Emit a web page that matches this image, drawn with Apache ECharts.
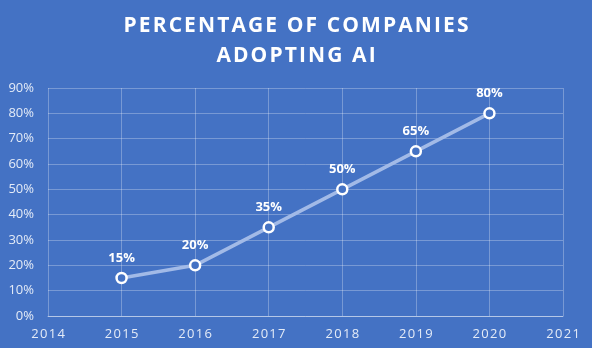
<!DOCTYPE html>
<html>
<head>
<meta charset="utf-8">
<script src="https://cdn.jsdelivr.net/npm/echarts@6/dist/echarts.min.js"></script>
<style>
  html, body { margin: 0; padding: 0; background: #4472C4; }
  #chart { width: 592px; height: 348px; }
</style>
</head>
<body>
<div id="chart"></div>
<script>
// Share of companies adopting AI, by year
const years = [2015, 2016, 2017, 2018, 2019, 2020];
const adoption = [15, 20, 35, 50, 65, 80];
const xTicks = [2014, 2015, 2016, 2017, 2018, 2019, 2020, 2021];
const yTicks = [0, 10, 20, 30, 40, 50, 60, 70, 80, 90];
const titleLines = ['PERCENTAGE OF COMPANIES', 'ADOPTING AI'];

const chart = echarts.init(document.getElementById('chart'));
const bg = '#4472C4';
const labelColor = '#e4ebf7';

// widen letter spacing with hair spaces
const spaced = s => s.split('').join('\u200a');

chart.setOption({
  backgroundColor: bg,
  animation: false,
  title: {
    text: titleLines.map(spaced).join('\n'),
    left: 'center',
    top: 6,
    textStyle: {
      color: '#ffffff',
      fontFamily: 'Open Sans',
      fontWeight: 'bold',
      fontSize: 21,
      lineHeight: 30
    }
  },
  grid: { left: 48, right: 29, top: 88, bottom: 32, containLabel: false },
  xAxis: {
    type: 'value',
    min: xTicks[0],
    max: xTicks[xTicks.length - 1],
    interval: 1,
    axisLine: { show: true, lineStyle: { color: 'rgba(255,255,255,0.45)', width: 1 } },
    axisTick: { show: false },
    splitLine: { show: true, lineStyle: { color: 'rgba(255,255,255,0.28)', width: 1 } },
    axisLabel: {
      color: labelColor,
      fontFamily: 'Open Sans',
      fontSize: 13,
      margin: 12,
      formatter: v => spaced(String(v))
    }
  },
  yAxis: {
    type: 'value',
    min: yTicks[0],
    max: yTicks[yTicks.length - 1],
    interval: 10,
    axisLine: { show: false },
    axisTick: { show: false },
    splitLine: { show: true, lineStyle: { color: 'rgba(255,255,255,0.28)', width: 1 } },
    axisLabel: {
      color: labelColor,
      fontFamily: 'Open Sans',
      fontSize: 13,
      margin: 14,
      formatter: v => v + '%'
    }
  },
  series: [{
    type: 'line',
    data: years.map((y, i) => [y, adoption[i]]),
    lineStyle: { color: '#a2bae7', width: 3.5 },
    symbol: 'circle',
    symbolSize: 10,
    itemStyle: { color: bg, borderColor: '#ffffff', borderWidth: 2.5 },
    label: {
      show: true,
      position: 'top',
      distance: 7,
      color: '#ffffff',
      fontFamily: 'Open Sans',
      fontWeight: 'bold',
      fontSize: 13,
      formatter: p => p.value[1] + '%'
    }
  }]
});
</script>
</body>
</html>
